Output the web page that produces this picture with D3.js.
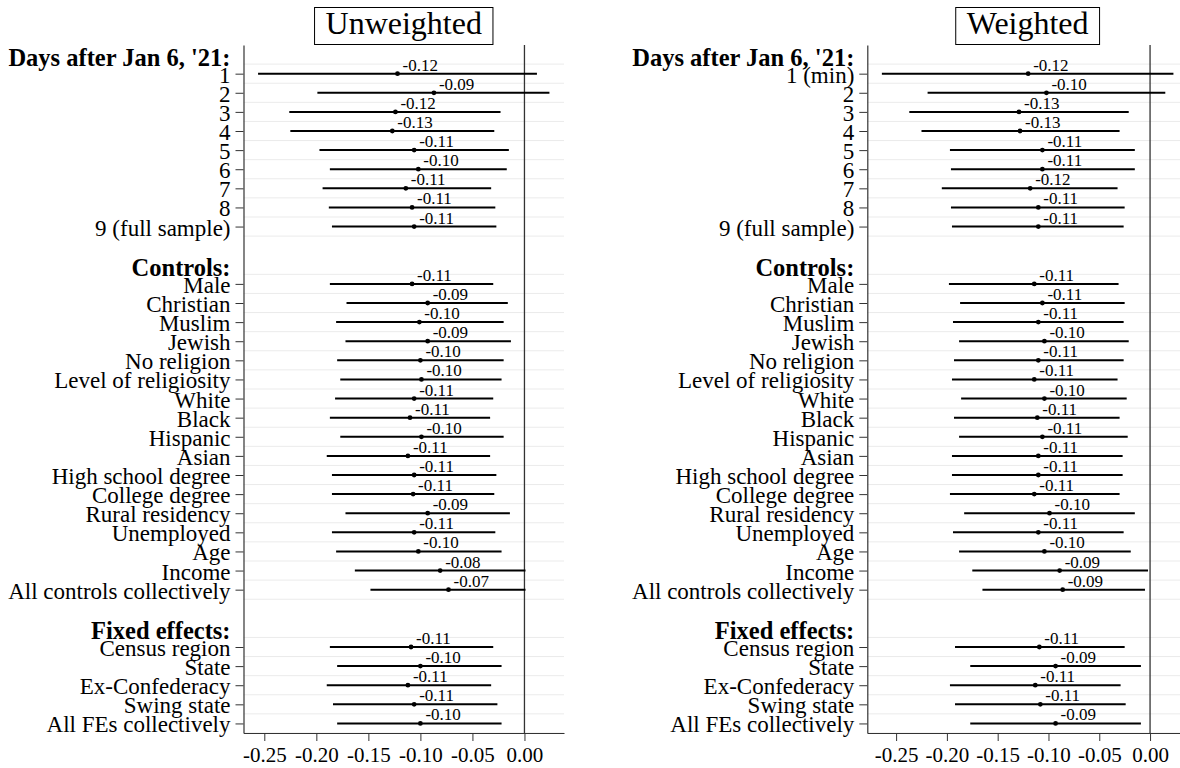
<!DOCTYPE html>
<html>
<head>
<meta charset="utf-8">
<script src="https://cdn.jsdelivr.net/npm/d3@7"></script>
<style>
body{margin:0;background:#fff;}
svg text{font-family:"Palatino Linotype","Book Antiqua",Palatino,"Liberation Serif",serif;fill:#000;}
</style>
</head>
<body>
<svg id="chart" width="1180" height="768"></svg>
<script>
'use strict';
// row labels
var headers = ["Days after Jan 6, '21:", "Controls:", "Fixed effects:"];
var dayLabels = ["1","2","3","4","5","6","7","8","9 (full sample)"];
var dayLabelsWeighted = ["1 (min)","2","3","4","5","6","7","8","9 (full sample)"];
var controlLabels = ["Male","Christian","Muslim","Jewish","No religion","Level of religiosity",
    "White","Black","Hispanic","Asian","High school degree","College degree",
    "Rural residency","Unemployed","Age","Income","All controls collectively"];
var feLabels = ["Census region","State","Ex-Confederacy","Swing state","All FEs collectively"];
var panelTitles = ["Unweighted","Weighted"];
var xTicks = [-0.25,-0.20,-0.15,-0.10,-0.05,0];

// estimates: 9 day rows, 17 controls, 5 fixed effects
var unwEst = [-0.122,-0.087,-0.124,-0.127,-0.106,-0.102,-0.114,-0.108,-0.106,
    -0.108,-0.093,-0.101,-0.093,-0.100,-0.099,-0.106,-0.110,-0.099,-0.112,-0.106,-0.107,-0.093,-0.106,-0.102,-0.081,-0.073,
    -0.109,-0.100,-0.112,-0.106,-0.100];
var unwLow = [-0.256,-0.199,-0.226,-0.225,-0.197,-0.187,-0.194,-0.188,-0.185,
    -0.187,-0.171,-0.181,-0.172,-0.180,-0.177,-0.182,-0.187,-0.177,-0.190,-0.185,-0.185,-0.172,-0.185,-0.181,-0.163,-0.148,
    -0.187,-0.180,-0.190,-0.184,-0.180];
var unwHigh = [0.012,0.024,-0.023,-0.029,-0.015,-0.017,-0.032,-0.028,-0.027,
    -0.030,-0.016,-0.020,-0.013,-0.020,-0.022,-0.030,-0.033,-0.020,-0.033,-0.027,-0.029,-0.014,-0.028,-0.022,0.001,0.001,
    -0.030,-0.022,-0.032,-0.026,-0.022];
var wEst = [-0.120,-0.102,-0.129,-0.128,-0.106,-0.106,-0.118,-0.110,-0.110,
    -0.114,-0.106,-0.110,-0.104,-0.110,-0.114,-0.104,-0.111,-0.106,-0.110,-0.110,-0.114,-0.099,-0.110,-0.104,-0.089,-0.086,
    -0.109,-0.093,-0.113,-0.108,-0.093];
var wLow = [-0.264,-0.219,-0.237,-0.225,-0.197,-0.196,-0.205,-0.196,-0.195,
    -0.198,-0.187,-0.194,-0.188,-0.193,-0.195,-0.186,-0.193,-0.188,-0.195,-0.195,-0.197,-0.183,-0.194,-0.188,-0.175,-0.165,
    -0.192,-0.177,-0.197,-0.192,-0.177];
var wHigh = [0.023,0.015,-0.021,-0.030,-0.015,-0.015,-0.032,-0.025,-0.026,
    -0.031,-0.025,-0.026,-0.021,-0.026,-0.032,-0.023,-0.030,-0.022,-0.027,-0.027,-0.030,-0.015,-0.026,-0.019,-0.002,-0.005,
    -0.025,-0.009,-0.029,-0.024,-0.009];

var svg = d3.select('#chart');
var plotTop = 45, plotBottom = 733;

// turn sections into slots: header, rows, blank gap
function buildRows(dayNames, est, low, high){
    var sections = [dayNames, controlLabels, feLabels];
    var rows = [], slot = 0, i = 0;
    sections.forEach(function(labels, s){
        rows.push({slot: slot++, label: headers[s], header: true});
        labels.forEach(function(l){
            rows.push({slot: slot++, label: l, est: est[i], low: low[i], high: high[i]});
            i++;
        });
        if(s < sections.length - 1) slot++;
    });
    return {rows: rows, nSlots: slot};
}

function drawPanel(opts){
    var built = buildRows(opts.dayNames, opts.est, opts.low, opts.high);
    var rows = built.rows;
    var data = rows.filter(function(r){ return !r.header; });
    var lo = d3.min(data, function(d){ return d.low; }),
        hi = d3.max(data, function(d){ return d.high; }),
        pad = (hi - lo) * 0.05;
    var x = d3.scaleLinear().domain([lo - pad, hi + pad]).range([opts.left, opts.left + opts.width]);
    var y = d3.scalePoint().domain(d3.range(built.nSlots)).range([plotTop, plotBottom]).padding(0.5);
    var g = svg.append('g').attr('class', 'panel');

    // light separators below every used slot
    g.selectAll('line.grid').data(rows).enter().append('line')
        .attr('class', 'grid')
        .attr('x1', opts.left).attr('x2', opts.left + opts.width)
        .attr('y1', function(d){ return y(d.slot) + y.step() / 2; })
        .attr('y2', function(d){ return y(d.slot) + y.step() / 2; })
        .attr('stroke', '#ebebeb').attr('stroke-width', 1);

    g.append('line')
        .attr('x1', x(0)).attr('x2', x(0))
        .attr('y1', plotTop).attr('y2', plotBottom)
        .attr('stroke', '#333').attr('stroke-width', 1.3);

    g.selectAll('line.ci').data(data).enter().append('line')
        .attr('class', 'ci')
        .attr('x1', function(d){ return x(d.low); })
        .attr('x2', function(d){ return x(d.high); })
        .attr('y1', function(d){ return y(d.slot); })
        .attr('y2', function(d){ return y(d.slot); })
        .attr('stroke', '#000').attr('stroke-width', 2);

    g.selectAll('circle').data(data).enter().append('circle')
        .attr('cx', function(d){ return x(d.est); })
        .attr('cy', function(d){ return y(d.slot); })
        .attr('r', 2.4).attr('fill', '#000');

    g.selectAll('text.val').data(data).enter().append('text')
        .attr('class', 'val')
        .attr('x', function(d){ return x(d.est) + 5; })
        .attr('y', function(d){ return y(d.slot) - 3; })
        .style('font-size', '17px')
        .text(function(d){ return d.est.toFixed(2); });

    var labelOf = {};
    data.forEach(function(d){ labelOf[d.slot] = d.label; });
    var yAxis = g.append('g')
        .attr('transform', 'translate(' + opts.left + ',0)')
        .call(d3.axisLeft(y)
            .tickValues(data.map(function(d){ return d.slot; }))
            .tickFormat(function(s){ return labelOf[s]; })
            .tickSize(8).tickPadding(5).tickSizeOuter(0));
    yAxis.selectAll('text').style('font-size', '23px').attr('dy', '0.37em');

    g.selectAll('text.head').data(rows.filter(function(r){ return r.header; })).enter().append('text')
        .attr('class', 'head')
        .attr('x', opts.left - 13)
        .attr('y', function(d){ return y(d.slot) + 11; })
        .attr('text-anchor', 'end')
        .style('font-size', '24.5px').style('font-weight', 'bold')
        .text(function(d){ return d.label; });

    var xAxis = g.append('g')
        .attr('transform', 'translate(0,' + plotBottom + ')')
        .call(d3.axisBottom(x).tickValues(xTicks)
            .tickFormat(function(v){ return v.toFixed(2); })
            .tickSize(8).tickPadding(6).tickSizeOuter(0));
    xAxis.selectAll('text').style('font-size', '21px');

    [yAxis, xAxis].forEach(function(a){
        a.selectAll('path, line').attr('stroke', '#333');
        a.select('.domain').attr('stroke-width', 1.2);
    });

    // boxed title
    var cx = opts.left + opts.width / 2;
    var title = g.append('text')
        .attr('x', cx).attr('y', 34.3)
        .attr('text-anchor', 'middle')
        .style('font-size', '32px')
        .text(opts.title);
    var w = title.node().getBBox().width + 22;
    g.insert('rect', 'text')
        .attr('x', cx - w / 2).attr('y', 7.5)
        .attr('width', w).attr('height', 37)
        .attr('fill', '#fff').attr('stroke', '#000').attr('stroke-width', 1);
}

drawPanel({left: 243.5, width: 320.5, title: panelTitles[0], dayNames: dayLabels,
    est: unwEst, low: unwLow, high: unwHigh});
drawPanel({left: 867.3, width: 320.7, title: panelTitles[1], dayNames: dayLabelsWeighted,
    est: wEst, low: wLow, high: wHigh});
</script>
</body>
</html>
